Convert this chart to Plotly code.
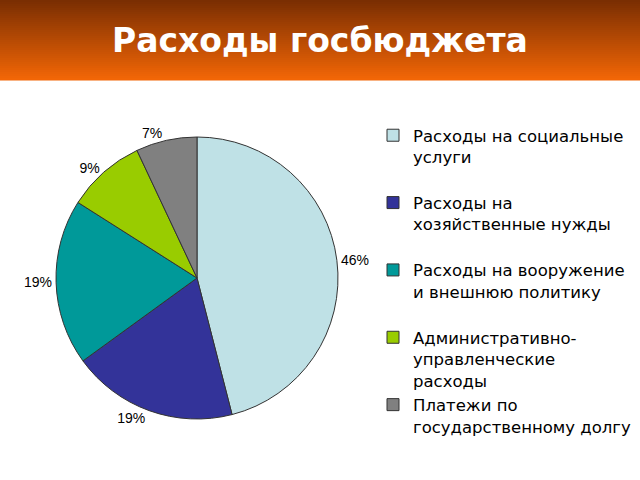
import plotly.graph_objects as go

categories = [
    "Расходы на социальные<br>услуги<br> ",
    "Расходы на<br>хозяйственные нужды<br> ",
    "Расходы на вооружение<br>и внешнюю политику<br> ",
    "Административно-<br>управленческие<br>расходы",
    "Платежи по<br>государственному долгу",
]
values = [46, 19, 19, 9, 7]
colors = ["#BFE1E6", "#333399", "#009999", "#99CC00", "#808080"]
title_text = "Расходы госбюджета"

W, H = 640, 480

fig = go.Figure()
fig.add_trace(go.Pie(
    labels=categories,
    values=values,
    sort=False,
    direction="clockwise",
    rotation=0,
    marker=dict(colors=colors, line=dict(color="#333333", width=1)),
    textinfo="percent",
    textposition="outside",
    textfont=dict(family="Liberation Sans, Arial, sans-serif", size=14, color="#000000"),
    domain=dict(x=[56 / W, 338 / W], y=[1 - 419 / H, 1 - 137 / H]),
    hoverinfo="label+percent",
))

# header gradient band
shapes = []
top = (0x7A, 0x2E, 0x02)
bot = (0xF2, 0x66, 0x06)
n = 40
band_h = 80
for i in range(n):
    t = i / (n - 1)
    c = tuple(int(round(top[k] + (bot[k] - top[k]) * t)) for k in range(3))
    y0 = 1 - (i + 1) * band_h / n / H
    y1 = 1 - i * band_h / n / H
    shapes.append(dict(type="rect", xref="paper", yref="paper", x0=0, x1=1,
                       y0=y0 - 0.001, y1=y1, fillcolor="rgb(%d,%d,%d)" % c,
                       line=dict(width=0), layer="below"))

fig.update_layout(
    width=W, height=H,
    margin=dict(l=0, r=0, t=0, b=0),
    paper_bgcolor="white",
    plot_bgcolor="white",
    shapes=shapes,
    showlegend=True,
    legend=dict(
        x=373 / W, xanchor="left",
        y=1 - 118 / H, yanchor="top",
        valign="top",
        font=dict(family="DejaVu Sans, sans-serif", size=16.5, color="#000000"),
        bgcolor="rgba(0,0,0,0)",
        tracegroupgap=0,
        itemwidth=30,
    ),
    annotations=[dict(
        text="<b>" + title_text + "</b>",
        xref="paper", yref="paper", x=320 / W, y=1 - 40 / H,
        xanchor="center", yanchor="middle", showarrow=False,
        font=dict(family="DejaVu Sans, sans-serif", size=33, color="white"),
    )],
)

fig.write_html("out.html")
